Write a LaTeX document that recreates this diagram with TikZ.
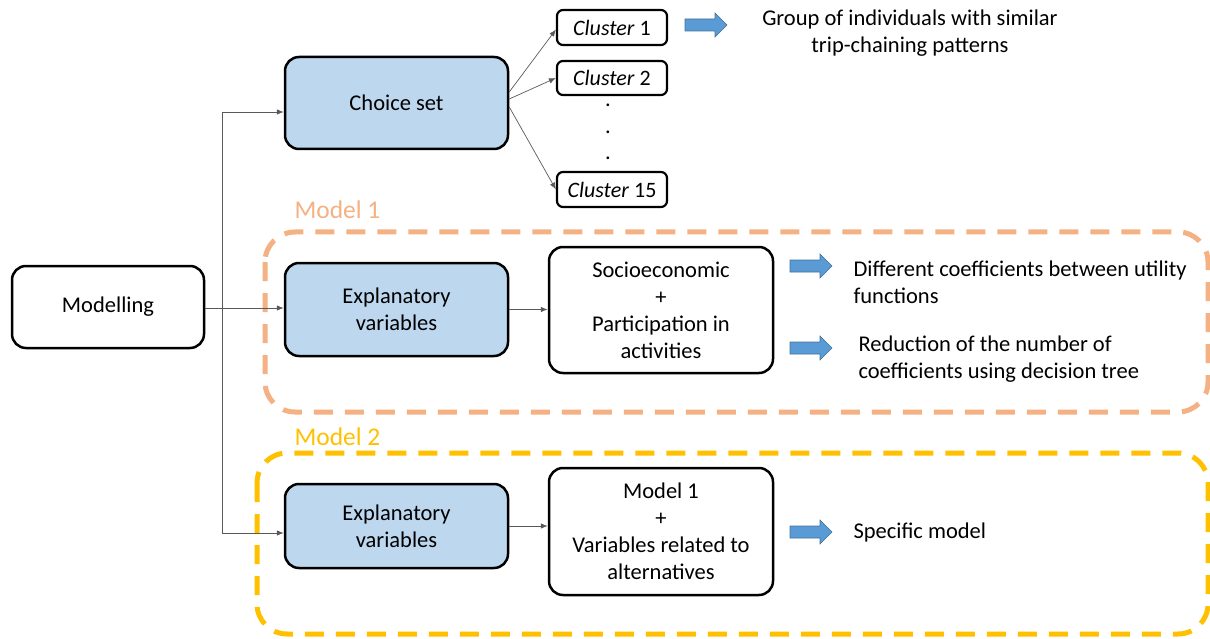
\documentclass[tikz,border=0pt]{standalone}
\usepackage{fontspec}
\setmainfont{Carlito}
\usetikzlibrary{arrows.meta,calc}
\definecolor{boxblue}{HTML}{BDD7EE}
\definecolor{arrblue}{HTML}{5B9BD5}
\definecolor{arrblueb}{HTML}{41719C}
\definecolor{mone}{HTML}{F4B183}
\definecolor{mtwo}{HTML}{FFC000}
\newcommand\bluarr[2]{\draw[barrow,shift={(#1,#2)}] (-21,-6) -- (9,-6) -- (9,-12) -- (21,0) -- (9,12) -- (9,6) -- (-21,6) -- cycle;}
\begin{document}
\begin{tikzpicture}[x=1pt,y=-1pt,
  every node/.style={font=\fontsize{22.5}{27}\selectfont},
  bx/.style={draw=black,line width=2.5pt,rounded corners=14pt,align=center,inner sep=2pt},
  bluebox/.style={bx,fill=boxblue,minimum width=223pt},
  whitebox/.style={bx,fill=white,minimum width=224pt,minimum height=126pt},
  clbox/.style={draw=black,line width=2.2pt,rounded corners=6pt,minimum width=110pt,minimum height=35pt,inner sep=1pt,font=\fontsize{22}{26}\selectfont},
  conn/.style={draw=black!65,line width=0.7pt,-{Latex[length=7pt,width=5.5pt]}},
  barrow/.style={fill=arrblue,draw=arrblueb,line width=0.6pt},
  dashbox/.style={line width=5pt,dash pattern=on 19pt off 12pt,rounded corners=30pt},
  lbl/.style={font=\fontsize{25.5}{30}\selectfont,anchor=west},
  dotn/.style={inner sep=0pt,anchor=base}
]
\useasboundingbox (0,0) rectangle (1210,639);
% dashed groups
\draw[dashbox,mone] (265,232) rectangle (1208,412);
\draw[dashbox,mtwo] (257,453) rectangle (1208,634);
\node[lbl,text=mone] (l1) at (291,210) {Model 1};
\node[lbl,text=mtwo] (l2) at (291,437) {Model 2};
% boxes
\node[bx,fill=white,minimum width=192pt,minimum height=82pt] (mod) at (108,307) {Modelling};
\node[bluebox,minimum height=92pt] (cs) at (396.5,103) {Choice set};
\node[clbox] (c1) at (612,27.5) {\textit{Cluster} 1};
\node[clbox,minimum height=34pt] (c2) at (612,78) {\textit{Cluster} 2};
\node[clbox] (c15) at (612,189.5) {\textit{Cluster} 15};
\node[dotn] (d1) at (608,107) {.};
\node[dotn] (d2) at (608,134) {.};
\node[dotn] (d3) at (608,160) {.};
\node[bluebox,minimum height=93pt] (ev1) at (396.5,309.5) {Explanatory\\variables};
\node[whitebox] (se) at (661,310) {Socioeconomic\\+\\Participation in\\activities};
\node[bluebox,minimum height=84pt] (ev2) at (396.5,526) {Explanatory\\variables};
\node[whitebox,minimum height=127pt] (m1) at (661,531.5) {Model 1\\+\\Variables related to\\alternatives};
% texts
\node[align=center] (t0) at (910,33) {Group of individuals with similar\\trip-chaining patterns};
\node[align=left,anchor=west] (t1) at (850,282) {Different coefficients between utility\\functions};
\node[align=left,anchor=west] (t2) at (855,359) {Reduction of the number of\\coefficients using decision tree};
\node[anchor=west] (t3) at (850,532) {Specific model};
% blue arrows
\bluarr{706}{25}
\bluarr{811}{266}
\bluarr{811}{348}
\bluarr{811}{532}
% connectors
\coordinate (tt) at (222,112);
\coordinate (tb) at (222,533);
\coordinate (tm) at (222,308);
\draw[draw=black!65,line width=0.7pt] (tt) -- (tb);
\draw[conn] (tt) -- (tt -| cs.west);
\draw[conn] (tb) -- (tb -| ev2.west);
\draw[conn] (mod.east |- tm) -- (tm -| ev1.west);
\draw[conn] (ev1.east) -- (ev1.east -| se.west);
\draw[conn] (ev2.east) -- (ev2.east -| m1.west);
\coordinate (s1) at ($(cs.east)+(0,-11)$);
\coordinate (s2) at ($(cs.east)+(0,-4)$);
\coordinate (s3) at ($(cs.east)+(0,4)$);
\draw[conn] (s1) -- ($(c1.west)+(0,2)$);
\draw[conn] (s2) -- (c2.west);
\draw[conn] (s3) -- (c15.west);
\end{tikzpicture}
\end{document}
